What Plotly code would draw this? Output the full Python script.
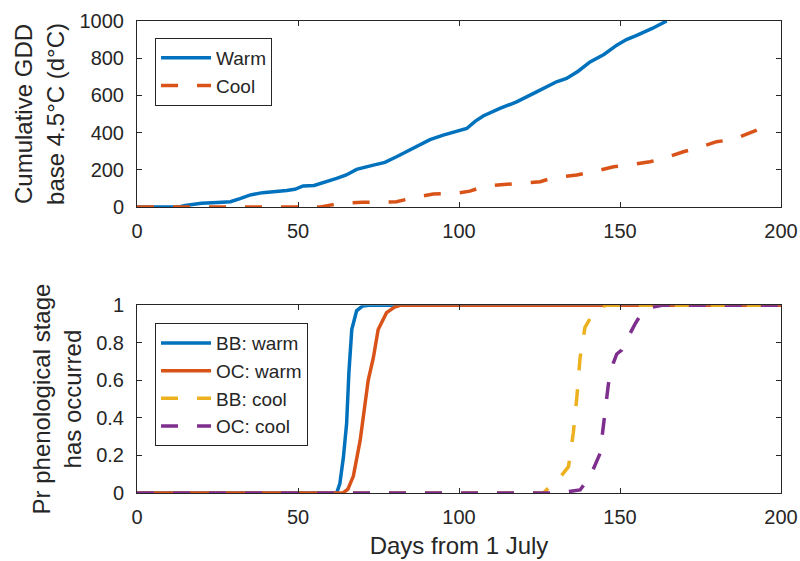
import plotly.graph_objects as go

# ---- Top panel: cumulative GDD ----
warm_days = [0, 13, 15, 20, 25, 29, 32, 35, 39, 43, 46.5, 49, 51.6, 55, 57.9, 62, 65, 68.2,
             73.4, 77, 80.6, 84, 87.9, 91, 95.1, 97.2, 102.4, 105, 107.5, 112.7, 117.9,
             124.1, 130.3, 133.4, 137, 140.7, 145, 149, 152, 155.2, 160, 164.5]
warm_gdd = [0, 0, 8, 20, 24, 28, 45, 64, 77, 82, 88, 95, 113, 116, 130, 154, 172, 202,
            225, 240, 270, 300, 338, 362, 386, 395, 422, 460, 489, 530, 565,
            619, 673, 691, 730, 780, 820, 870, 900, 923, 960, 1000]

cool_days = [0, 57, 60, 63, 70, 75, 80.6, 85.8, 92, 97.2, 100, 103.4, 107, 110, 114.8,
             119, 122, 125.2, 129.3, 136.6, 141.7, 148, 152.6, 159.3, 163.5, 169.7,
             173.8, 180, 185.2, 191.4, 196.5]
cool_gdd = [0, 0, 10, 20, 25, 25, 28, 50, 70, 73, 76, 85, 106, 115, 122,
            127, 130, 136, 157, 172, 190, 216, 225, 243, 261, 297,
            315, 351, 363, 404, 440]

# ---- Bottom panel: probability that stage has occurred ----
bb_warm_days = [0, 62, 63, 64.1, 65.1, 65.8, 66.7, 68.2, 70, 72, 200]
bb_warm_p = [0, 0, 0.05, 0.19, 0.37, 0.64, 0.87, 0.97, 0.995, 1, 1]

oc_warm_days = [0, 64, 65.5, 67.2, 69.3, 70.8, 71.8, 73.4, 74.9, 77.5, 80, 82, 200]
oc_warm_p = [0, 0, 0.02, 0.09, 0.28, 0.49, 0.6, 0.72, 0.87, 0.96, 0.99, 1, 1]

bb_cool_days = [0, 126.2, 128, 129.8, 134, 135.5, 136.6, 137.6, 139.1, 141.7, 144, 146, 200]
bb_cool_p = [0, 0, 0.03, 0.05, 0.14, 0.32, 0.51, 0.72, 0.88, 0.96, 0.99, 1, 1]

oc_cool_days = [0, 131, 137.6, 140.7, 143.8, 145.3, 146.4, 147.9, 149, 150.5, 151.6, 154.7,
                157.2, 160, 163.5, 200]
oc_cool_p = [0, 0, 0.016, 0.087, 0.21, 0.41, 0.58, 0.69, 0.74, 0.76, 0.8, 0.9,
             0.97, 0.99, 1, 1]

x_ticks = [0, 50, 100, 150, 200]
gdd_ticks = [0, 200, 400, 600, 800, 1000]
p_ticks = [0, 0.2, 0.4, 0.6, 0.8, 1]
p_tick_labels = ["0", "0.2", "0.4", "0.6", "0.8", "1"]

BLUE = "#0072BD"
ORANGE = "#D95319"
YELLOW = "#EDB120"
PURPLE = "#7E2F8E"
INK = "#262626"
FONT = "Liberation Sans, Arial, sans-serif"
DASH = "17px,19px"
LW = 3.5

fig = go.Figure()

fig.add_trace(go.Scatter(x=warm_days, y=warm_gdd, mode="lines", name="Warm",
                         line=dict(color=BLUE, width=LW), xaxis="x", yaxis="y",
                         legend="legend"))
fig.add_trace(go.Scatter(x=cool_days, y=cool_gdd, mode="lines", name="Cool",
                         line=dict(color=ORANGE, width=LW, dash=DASH), xaxis="x", yaxis="y",
                         legend="legend"))

fig.add_trace(go.Scatter(x=bb_warm_days, y=bb_warm_p, mode="lines", name="BB: warm",
                         line=dict(color=BLUE, width=LW), xaxis="x2", yaxis="y2",
                         legend="legend2"))
fig.add_trace(go.Scatter(x=oc_warm_days, y=oc_warm_p, mode="lines", name="OC: warm",
                         line=dict(color=ORANGE, width=LW), xaxis="x2", yaxis="y2",
                         legend="legend2"))
fig.add_trace(go.Scatter(x=bb_cool_days, y=bb_cool_p, mode="lines", name="BB: cool",
                         line=dict(color=YELLOW, width=LW, dash=DASH), xaxis="x2", yaxis="y2",
                         legend="legend2"))
fig.add_trace(go.Scatter(x=oc_cool_days, y=oc_cool_p, mode="lines", name="OC: cool",
                         line=dict(color=PURPLE, width=LW, dash=DASH), xaxis="x2", yaxis="y2",
                         legend="legend2"))

axis_common = dict(
    showline=True, linecolor=INK, linewidth=1, mirror="ticks",
    ticks="inside", ticklen=5, tickcolor=INK, tickwidth=1,
    showgrid=False, zeroline=False, automargin=False,
    tickfont=dict(family=FONT, size=20, color=INK),
)

fig.update_layout(
    template="none",
    width=800, height=561, autosize=False,
    margin=dict(l=137, r=19, t=21, b=68),
    plot_bgcolor="white", paper_bgcolor="white",
    font=dict(family=FONT, color=INK),
    xaxis=dict(domain=[0, 1], range=[0, 200], tickvals=x_ticks, anchor="y",
               ticklabelstandoff=6, **axis_common),
    yaxis=dict(domain=[0.606, 1], range=[0, 1000], tickvals=gdd_ticks, anchor="x",
               ticklabelstandoff=8,
               title=dict(text="Cumulative GDD<br>base 4.5°C (d°C)",
                          font=dict(family=FONT, size=24, color=INK), standoff=8),
               **axis_common),
    xaxis2=dict(domain=[0, 1], range=[0, 200], tickvals=x_ticks, anchor="y2",
                ticklabelstandoff=6,
                title=dict(text="Days from 1 July",
                           font=dict(family=FONT, size=24, color=INK), standoff=10),
                **axis_common),
    yaxis2=dict(domain=[0, 0.398], range=[0, 1], tickvals=p_ticks, ticktext=p_tick_labels,
                anchor="x2", ticklabelstandoff=8,
                title=dict(text="Pr phenological stage<br>has occurred",
                           font=dict(family=FONT, size=24, color=INK), standoff=7),
                **axis_common),
    legend=dict(x=0.028, y=0.964, xanchor="left", yanchor="top",
                bgcolor="white", bordercolor=INK, borderwidth=1, itemwidth=50,
                font=dict(family=FONT, size=19, color=INK)),
    legend2=dict(x=0.028, y=0.360, xanchor="left", yanchor="top",
                 bgcolor="white", bordercolor=INK, borderwidth=1, itemwidth=50,
                 font=dict(family=FONT, size=19, color=INK)),
    showlegend=True,
)

fig.write_html("out.html", config={"responsive": False})
